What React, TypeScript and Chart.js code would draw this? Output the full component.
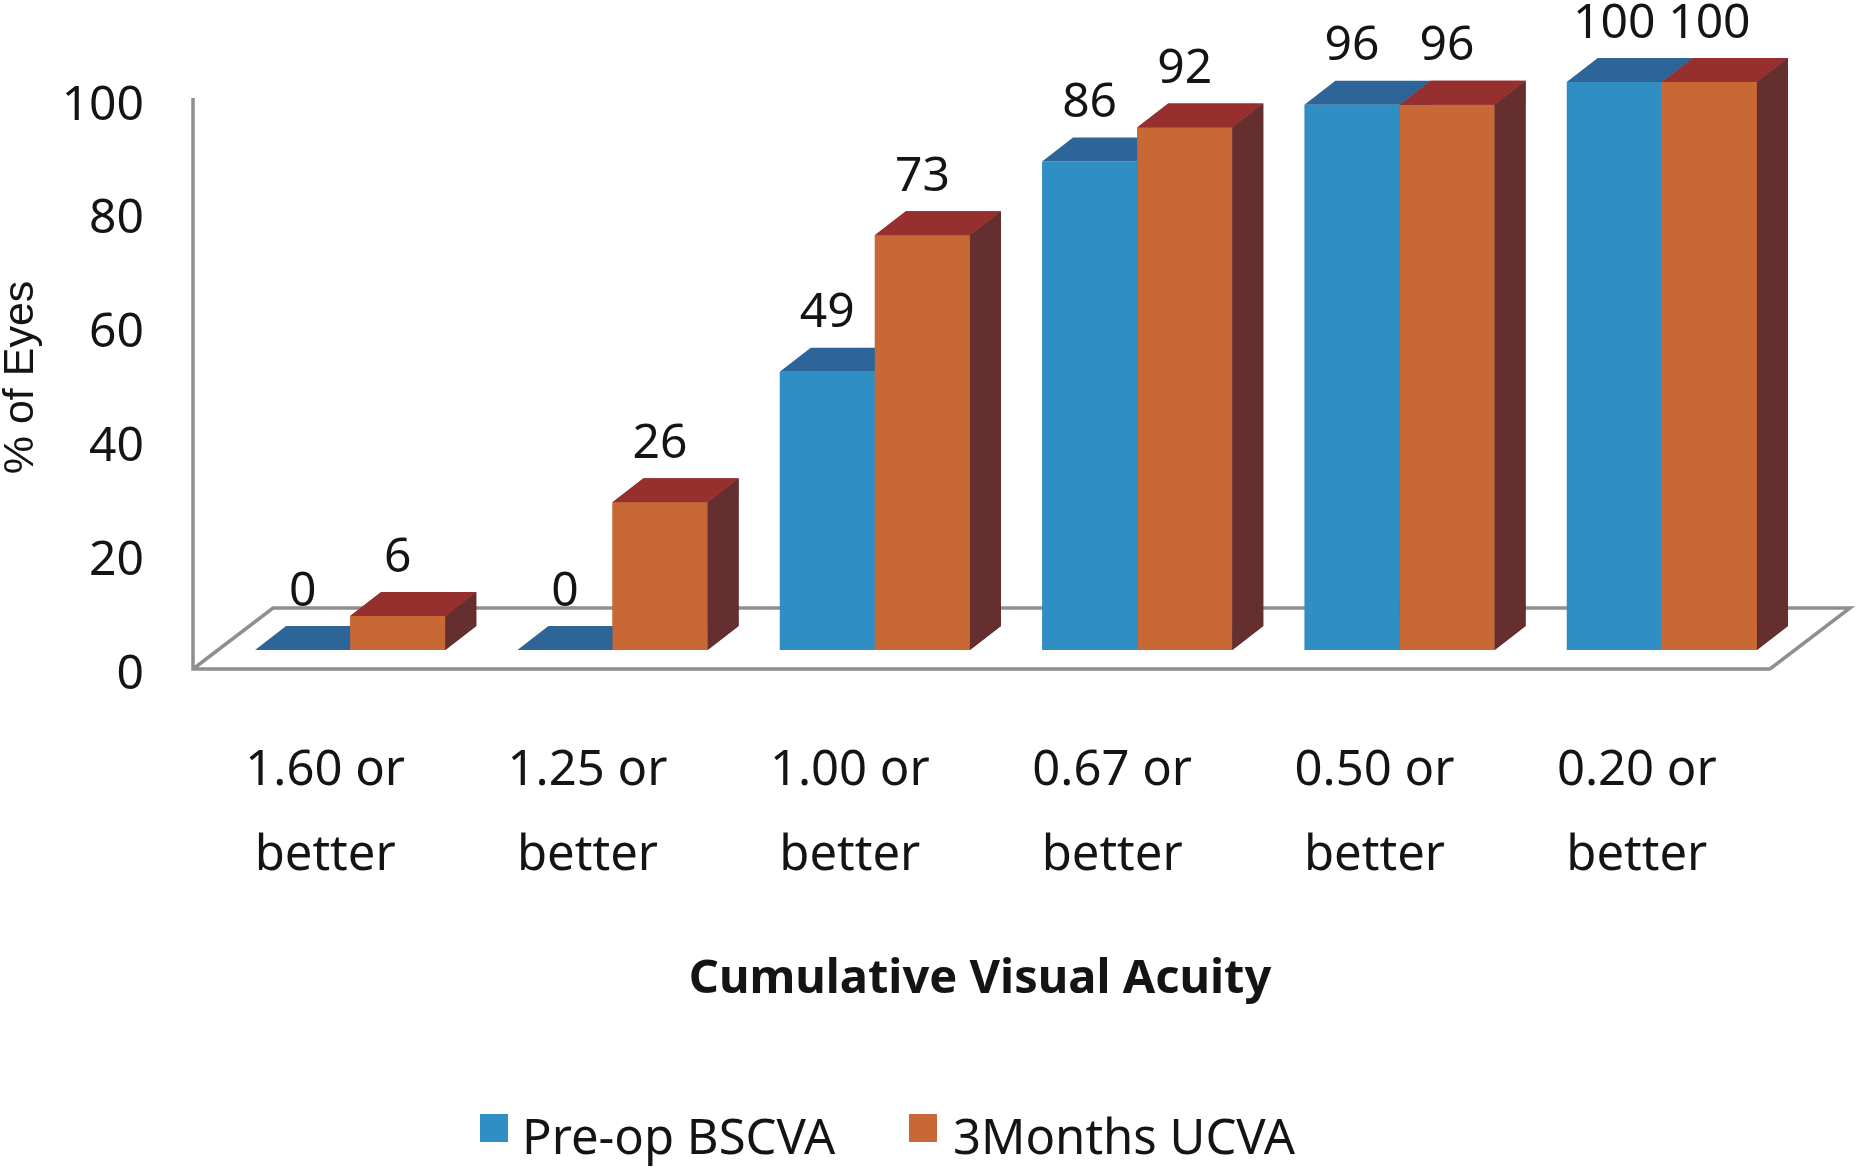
import React, { useEffect, useRef } from "react";
import { Chart, registerables } from "chart.js";

Chart.register(...registerables);

const categories = [
  ["1.60 or", "better"],
  ["1.25 or", "better"],
  ["1.00 or", "better"],
  ["0.67 or", "better"],
  ["0.50 or", "better"],
  ["0.20 or", "better"],
];
const preOpBSCVA = [0, 0, 49, 86, 96, 100];
const threeMonthsUCVA = [6, 26, 73, 92, 96, 100];
const yTicks = [0, 20, 40, 60, 80, 100];

const TEXT = "#141414";
const FONT = "'Noto Sans'";
const DX = 31;
const DY = 24;
const AXIS_LINE = "#8f8f8f";

const faces = [
  { top: "#2d6598", side: "#1f4a68" },
  { top: "#96302f", side: "#662f2f" },
];

function drawFaces(chart: any, index: number) {
  const { ctx } = chart;
  const colors = faces[index];
  ctx.save();
  chart.getDatasetMeta(index).data.forEach((bar: any) => {
    const { x, y, base, width } = bar.getProps(["x", "y", "base", "width"]);
    const l = x - width / 2;
    const r = x + width / 2;
    ctx.fillStyle = colors.side;
    ctx.beginPath();
    ctx.moveTo(r, y);
    ctx.lineTo(r + DX, y - DY);
    ctx.lineTo(r + DX, base - DY);
    ctx.lineTo(r, base);
    ctx.closePath();
    ctx.fill();
    ctx.fillStyle = colors.top;
    ctx.beginPath();
    ctx.moveTo(l, y);
    ctx.lineTo(l + DX, y - DY);
    ctx.lineTo(r + DX, y - DY);
    ctx.lineTo(r, y);
    ctx.closePath();
    ctx.fill();
  });
  ctx.restore();
}

const scene3d = {
  id: "scene3d",
  afterLayout(chart: any) {
    chart.scales.x.left -= 52;
  },
  beforeDatasetsDraw(chart: any) {
    const { ctx } = chart;
    const w = chart.scales.yWall;
    const y0 = w.getPixelForValue(0) - 6;
    const y100 = w.getPixelForValue(100) - 8;
    ctx.save();
    ctx.strokeStyle = AXIS_LINE;
    ctx.lineWidth = 3.5;
    ctx.lineJoin = "miter";
    ctx.beginPath();
    ctx.moveTo(193, y100);
    ctx.lineTo(193, y0);
    ctx.lineTo(1770, y0);
    ctx.lineTo(1850, y0 - 61);
    ctx.lineTo(273, y0 - 61);
    ctx.lineTo(193, y0);
    ctx.stroke();
    ctx.restore();
  },
  afterDatasetDraw(chart: any, args: any) {
    // Chart.js paints the last dataset first; the front series has to end up on top.
    drawFaces(chart, args.index);
    if (args.index === 0) {
      chart.getDatasetMeta(1).controller.draw();
      drawFaces(chart, 1);
    }
  },
  afterDatasetsDraw(chart: any) {
    const { ctx } = chart;
    ctx.save();
    ctx.font = `48px ${FONT}`;
    ctx.fillStyle = TEXT;
    ctx.textAlign = "center";
    ctx.textBaseline = "middle";
    chart.data.datasets.forEach((ds: any, i: number) => {
      chart.getDatasetMeta(i).data.forEach((bar: any, j: number) => {
        ctx.fillText(String(ds.data[j]), bar.x, bar.y - 58);
      });
    });
    // legend
    const swatchX = [480, 909];
    const textX = [522, 953];
    chart.data.datasets.forEach((ds: any, i: number) => {
      ctx.fillStyle = ds.backgroundColor;
      ctx.fillRect(swatchX[i], 1114, 28, 28);
      ctx.fillStyle = TEXT;
      ctx.textAlign = "left";
      ctx.font = `49px ${FONT}`;
      ctx.fillText(ds.label, textX[i], 1140);
    });
    ctx.restore();
  },
};

export default function App() {
  const ref = useRef<HTMLCanvasElement>(null);
  useEffect(() => {
    const chart = new Chart(ref.current as HTMLCanvasElement, {
      type: "bar",
      data: {
        labels: categories,
        datasets: [
          {
            label: "Pre-op BSCVA",
            data: preOpBSCVA,
            backgroundColor: "#2f8fc4",
          },
          {
            label: "3Months UCVA",
            data: threeMonthsUCVA,
            backgroundColor: "#c86835",
          },
        ],
      } as any,
      options: {
        responsive: false,
        animation: false,
        layout: { padding: { top: 82, right: 64, bottom: 0, left: 0 } },
        datasets: { bar: { categoryPercentage: 0.725, barPercentage: 1 } },
        plugins: {
          legend: { display: false },
          tooltip: { enabled: false },
          title: { display: false },
        },
        scales: {
          x: {
            type: "category",
            offset: true,
            grid: { display: false, drawTicks: false },
            border: { display: false },
            afterFit: (s: any) => {
              s.height = 494;
              s.paddingLeft = 0;
              s.paddingRight = 0;
            },
            ticks: {
              autoSkip: false,
              maxRotation: 0,
              minRotation: 0,
              labelOffset: -25,
              padding: 56,
              color: TEXT,
              font: { family: FONT, size: 49, lineHeight: 1.73 },
            },
            title: {
              display: true,
              text: "Cumulative Visual Acuity",
              color: TEXT,
              padding: { top: 0, bottom: 164 },
              font: { family: FONT, size: 47, weight: "bold", lineHeight: 1 },
            },
          },
          y: {
            type: "linear",
            display: false,
            min: -4.05,
            max: 100,
          },
          yWall: {
            type: "linear",
            position: "left",
            min: 0.35,
            max: 104.22,
            grid: { display: false, drawTicks: false },
            border: { display: false },
            afterFit: (s: any) => {
              s.width = 219;
              s.paddingTop = 0;
              s.paddingBottom = 0;
            },
            afterBuildTicks: (s: any) => {
              s.ticks = yTicks.map((value) => ({ value }));
            },
            ticks: {
              padding: 75,
              color: TEXT,
              font: { family: FONT, size: 48 },
            },
            title: {
              display: true,
              text: "% of Eyes",
              color: TEXT,
              padding: 0,
              font: { family: "'Liberation Sans'", size: 43, lineHeight: 1 },
            },
          },
        },
      } as any,
      plugins: [scene3d],
    });
    return () => chart.destroy();
  }, []);
  return (
    <div style={{ position: "absolute", left: 0, top: 0, width: 1857, height: 1167, background: "#fff" }}>
      <canvas ref={ref} width={1857} height={1167} style={{ display: "block" }} />
    </div>
  );
}
